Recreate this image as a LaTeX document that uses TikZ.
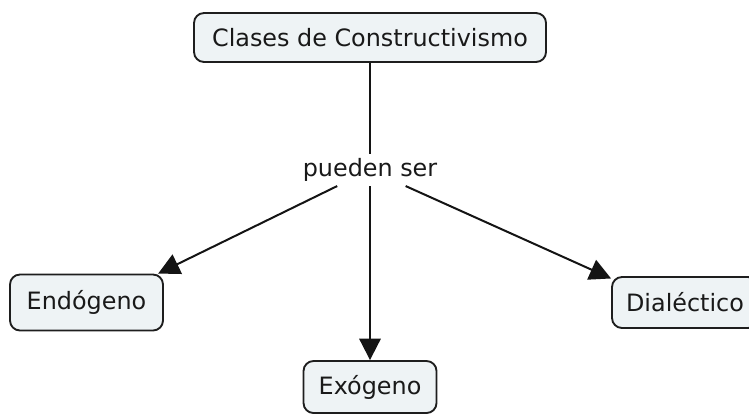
\documentclass[tikz,border=0pt]{standalone}
\usepackage{fontspec}
\setmainfont{DejaVu Sans}
\usetikzlibrary{arrows.meta}

\tikzset{every picture/.style={line width=0.75pt}}

\begin{document}
\begin{tikzpicture}[x=0.75pt,y=0.75pt,yscale=-1,xscale=1,
  concept/.style={draw={rgb, 255:red, 30; green, 30; blue, 30 },line width=1.4pt,rounded corners=7.5pt,
    fill={rgb, 255:red, 238; green, 243; blue, 245 },inner sep=0pt,text={rgb, 255:red, 25; green, 25; blue, 25 },
    font=\fontsize{17.9}{21}\selectfont},
  linkphrase/.style={inner sep=3pt,text={rgb, 255:red, 25; green, 25; blue, 25 },font=\fontsize{17.9}{21}\selectfont},
  link/.style={line width=1.5pt,draw={rgb, 255:red, 20; green, 20; blue, 20 }},
  linkarrow/.style={link,-{Triangle[length=16pt,width=16pt]}}]
%set diagram size to 749 x 414
\useasboundingbox (0,0) rectangle (749,414);

%Shape: Rounded Rect [id:clases]
\node [concept,minimum width=264pt,minimum height=36.75pt] (clases) at (370,37.5) {Clases de Constructivismo};
%Shape: Rounded Rect [id:endogeno]
\node [concept,minimum width=114.75pt,minimum height=42pt] (endogeno) at (86.5,302.5) {Endógeno};
%Shape: Rounded Rect [id:exogeno]
\node [concept,minimum width=99.75pt,minimum height=39pt] (exogeno) at (370,387) {Exógeno};
%Shape: Rounded Rect [id:dialectico]
\node [concept,minimum width=109.5pt,minimum height=38.25pt] (dialectico) at (685,302.5) {Dialéctico};

% Text Node
\node [linkphrase] (pueden) at (370,170) {pueden ser};

%Straight Lines
\draw [link] (clases) -- (pueden);
\draw [linkarrow] (pueden) -- (endogeno.22);
\draw [linkarrow] (pueden) -- (exogeno);
\draw [linkarrow] (pueden) -- (dialectico.162);

\end{tikzpicture}
\end{document}
